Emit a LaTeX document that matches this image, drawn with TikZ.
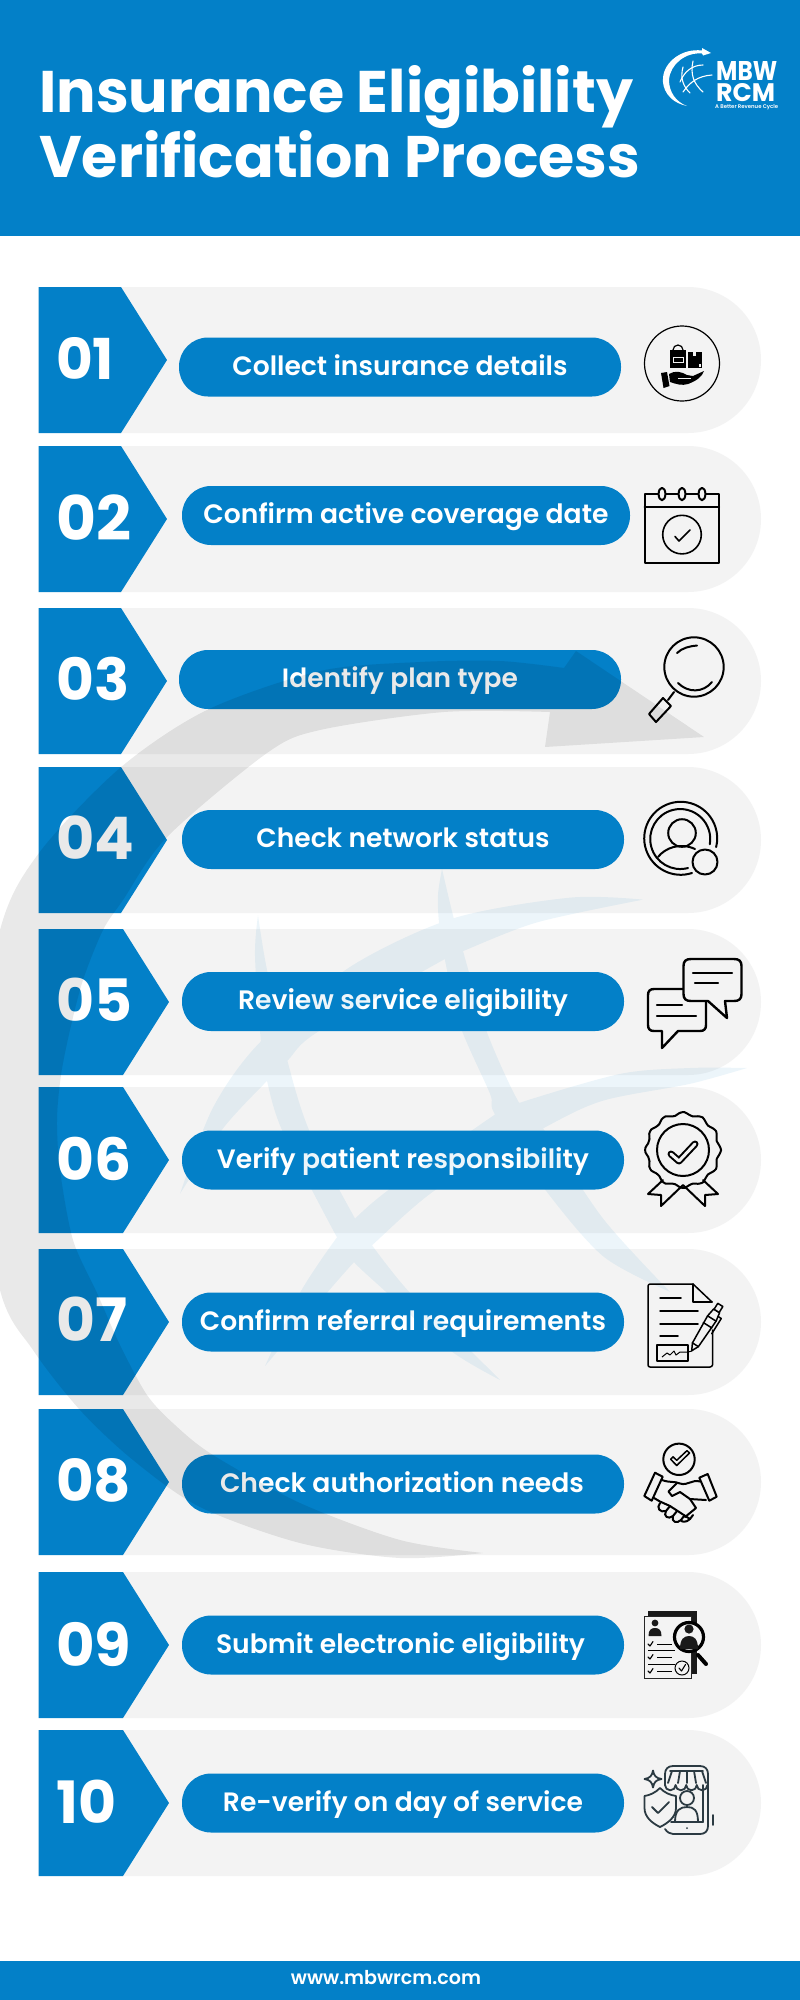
\documentclass[tikz,border=0pt]{standalone}
\usepackage{graphicx}
\usepackage{fontspec}
\setmainfont{Poppins}
\newfontfamily\semi{Poppins}[UprightFont=*-SemiBold]
\usetikzlibrary{calc}
\definecolor{brand}{HTML}{0380C8}
\definecolor{rowgray}{HTML}{F3F3F3}
\definecolor{iconslate}{HTML}{2B3A42}
\tikzset{
  x=1pt,y=-1pt,
  rowband/.style={fill=rowgray},
  chev/.style={fill=brand},
  pillbox/.style={fill=brand,text=white,rounded corners=29pt,inner sep=0pt,minimum height=59pt,text height=20pt,text depth=4pt,align=center},
  numlabel/.style={text=white,anchor=west,inner sep=0pt},
  wm/.style={fill=black,fill opacity=.085},
  globe/.style={fill=brand,fill opacity=.075},
  ic/.style={draw=black,line width=2pt,line cap=round,line join=round},
  icthin/.style={draw=black,line width=1.5pt,line cap=round,line join=round},
  icf/.style={fill=black},
  logoline/.style={draw=white,line width=1.1pt,line cap=round},
}
\newcommand{\rowshape}[3]{%
  \fill[rowband] (100,#1) -- (688,#1) arc[start angle=-90,end angle=90,radius=73] -- (100,#1+146) -- cycle;
  \fill[chev] (38.5,#1) -- (#2,#1) -- (#3,#1+73) -- (#2,#1+146) -- (38.5,#1+146) -- cycle;
}
\newcommand{\numtext}[2]{\resizebox{#1pt}{!}{\bfseries #2}}
\newcommand{\pilltext}[2]{\resizebox{#1pt}{!}{\semi\fontsize{26}{30}\selectfont #2}}
\begin{document}
\begin{tikzpicture}
\useasboundingbox (0,0) rectangle (800,2000);
\fill[white] (0,0) rectangle (800,2000);
% header and footer
\fill[brand] (0,0) rectangle (800,236);
\fill[brand] (0,1961) rectangle (800,2000);
\node[anchor=base west,inner sep=0pt,text=white] (title1) at (39,112) {\resizebox{594pt}{!}{\bfseries\fontsize{58}{60}\selectfont Insurance Eligibility}};
\node[anchor=base west,inner sep=0pt,text=white] (title2) at (39,177) {\resizebox{601pt}{!}{\bfseries\fontsize{58}{60}\selectfont Verification Process}};
\node[inner sep=0pt,text=white] (footer) at (386,1978) {\resizebox{190pt}{!}{\semi\fontsize{18}{20}\selectfont www.mbwrcm.com}};
% logo
\fill[white] (687,106) .. controls (668,102) and (662,88) .. (663,78) .. controls (664,62) and (682,48) .. (702,50.5) -- (702,48) -- (711,53) -- (703,55.5) -- (702,53.5) .. controls (686,52) and (670,64) .. (669,80) .. controls (669,92) and (676,102) .. (687,106) -- cycle;
\draw[logoline] (693,61) .. controls (690,75) and (694,84) .. (703,92);
\draw[logoline] (683,67) .. controls (680,78) and (683,86) .. (690,93);
\draw[logoline] (703,65) .. controls (692,65) and (684,72) .. (680,82);
\draw[logoline] (712,75) .. controls (698,76) and (690,82) .. (683,92);
\node[anchor=base west,inner sep=0pt,text=white] (logoa) at (716,80) {\resizebox{61pt}{19pt}{\bfseries MBW}};
\node[anchor=base west,inner sep=0pt,text=white] (logob) at (716,101) {\resizebox{59pt}{18pt}{\bfseries RCM}};
\node[anchor=base west,inner sep=0pt,text=white] (logoc) at (715,108) {\resizebox{63pt}{!}{\semi A Better Revenue Cycle}};
% rows
\rowshape{287}{121}{167}
\rowshape{446}{121}{167}
\rowshape{608}{121}{167}
\rowshape{767}{121}{167}
\rowshape{929}{123}{169}
\rowshape{1087}{123}{169}
\rowshape{1249}{123}{169}
\rowshape{1409}{123}{169}
\rowshape{1572}{123}{169}
\rowshape{1730}{123}{169}
% numbers
\node[numlabel] (n1) at (56,358) {\numtext{58}{01}};
\node[numlabel] (n2) at (56,518) {\numtext{75}{02}};
\node[numlabel] (n3) at (56,679) {\numtext{73}{03}};
\node[numlabel] (n4) at (56,838) {\numtext{78}{04}};
\node[numlabel] (n5) at (56,1000) {\numtext{76}{05}};
\node[numlabel] (n6) at (56,1159) {\numtext{75}{06}};
\node[numlabel] (n7) at (56,1319) {\numtext{71}{07}};
\node[numlabel] (n8) at (56,1480) {\numtext{75}{08}};
\node[numlabel] (n9) at (56,1644) {\numtext{75}{09}};
\node[numlabel] (n10) at (56,1802) {\numtext{60}{10}};
% pills
\node[pillbox,minimum width=442pt] (p1) at (400,367) {\pilltext{335}{Collect insurance details}};
\node[pillbox,minimum width=448pt] (p2) at (406,515.5) {\pilltext{405}{Confirm active coverage date}};
\node[pillbox,minimum width=442pt] (p3) at (400,679.5) {\pilltext{236}{Identify plan type}};
\node[pillbox,minimum width=442pt] (p4) at (403,839.5) {\pilltext{293}{Check network status}};
\node[pillbox,minimum width=442pt] (p5) at (403,1001.5) {\pilltext{330}{Review service eligibility}};
\node[pillbox,minimum width=442pt] (p6) at (403,1160) {\pilltext{372}{Verify patient responsibility}};
\node[pillbox,minimum width=442pt] (p7) at (403,1322) {\pilltext{406}{Confirm referral requirements}};
\node[pillbox,minimum width=442pt] (p8) at (403,1484) {\hspace*{-2pt}\pilltext{364}{Check authorization needs}};
\node[pillbox,minimum width=442pt] (p9) at (403,1645) {\hspace*{-5pt}\pilltext{369}{Submit electronic eligibility}};
\node[pillbox,minimum width=442pt] (p10) at (403,1803) {\pilltext{360}{Re-verify on day of service}};
% watermark globe: one path, every stroke wound the same way, so crossings do not darken
\begin{scope}[shift={(0,860)},yscale=.9904,shift={(0,-860)}]
\fill[globe]
  plot[smooth] coordinates {(643,900) (570,898) (453,919) (350,968) (260,1044) (213,1110) (180,1197)}
  -- plot[smooth] coordinates {(180,1197) (223,1131) (267,1083) (288,1062) (317,1034) (443,961) (463,952) (537,923) (643,900)} -- cycle
  plot[smooth] coordinates {(747,1070) (690,1070) (620,1076) (520,1105) (495,1117) (390,1192) (355,1222) (337,1241) (300,1297) (265,1371)}
  -- plot[smooth] coordinates {(265,1371) (327,1297) (355,1265) (372,1249) (437,1192) (543,1131) (603,1103) (690,1086) (747,1070)} -- cycle
  plot[smooth] coordinates {(258,916) (255,957) (261,1044) (267,1083) (283,1135) (337,1241) (353,1265) (387,1297) (450,1355) (500,1385)}
  -- plot[smooth] coordinates {(500,1385) (470,1355) (410,1297) (372,1249) (355,1222) (310,1135) (288,1065) (267,971) (258,916)} -- cycle
  plot[smooth] coordinates {(442,869) (438,895) (439,923) (445,961) (460,1027) (490,1096) (495,1117) (543,1190) (603,1260) (670,1296)}
  -- plot[smooth] coordinates {(670,1296) (603,1222) (543,1131) (519,1105) (487,1034) (463,952) (453,916) (442,869)} -- cycle;
\end{scope}
% watermark crescent and arrow
\fill[wm] plot[smooth] coordinates {(483,1553) (400,1558) (300,1543) (200,1507) (133,1460) (80,1410) (33,1350) (0,1290) (-30,1110) (0,930) (39,853) (120,768) (207,710) (320,671) (420,662) (500,661) (564,668)}
  -- (576,651) -- (704,737) -- (545,747) -- (550,712)
  -- plot[smooth] coordinates {(550,712) (444,712) (320,730) (267,753) (167,837) (123,900) (103,930) (83,980) (70,1030) (61,1075) (57,1120) (60,1170) (73,1240) (97,1293) (120,1345) (147,1395) (175,1425) (213,1455) (300,1503) (400,1540) (483,1553)} -- cycle;
% icon 1
\draw[black,line width=1.2pt] (682,363.5) circle[radius=37.5];
\draw[black,line width=1.2pt] (673,350) arc[start angle=180,end angle=360,radius=5];
\fill[icf] (670,350) rectangle (686,368);
\fill[rowgray] (672.5,357) rectangle (683.5,363);
\fill[icf] (673.5,358) rectangle (682.5,362);
\fill[icf] (687.5,352) rectangle (702,368);
\fill[rowgray] (699,364) rectangle (701,366.5);
\fill[rowgray] (692.5,352) rectangle (695.5,356);
\fill[icf] (661,373) -- (667,372) -- (669.5,386) -- (663.5,388) -- cycle;
\fill[icf] (669,374) .. controls (675,370) and (682,372) .. (687,375) -- (693,376) -- (704,371) .. controls (702,377) and (696,381) .. (688,384) .. controls (682,386) and (676,384) .. (670,382) -- cycle;
\fill[rowgray] (678,377.5) rectangle (691,378.5);
% icon 2
\draw[ic] (644.5,494) rectangle (719,563);
\draw[ic] (644.5,507) -- (719,507);
\foreach \cx in {662,682,702}{\filldraw[ic,fill=rowgray] (\cx,494) ellipse[x radius=3.4,y radius=6.2];}
\draw[black,line width=1.6pt] (682,534.6) circle[radius=19.3];
\draw[black,line width=1.6pt,line cap=round,line join=round] (675,536.5) -- (679,541) -- (690,530);
% icon 3
\draw[ic] (694,667) circle[radius=29.7];
\draw[ic] (677,653) .. controls (682,648) and (690,646) .. (697,645.5);
\draw[ic] (678,683) .. controls (688,693) and (703,693) .. (712,682);
\draw[ic] (674,692) -- (668,700);
\draw[ic] (663,698) -- (671,706) -- (656,722) -- (649,714) -- cycle;
% icon 4
\draw[ic] (692,873) arc[start angle=72,end angle=374,radius=36.5];
\draw[ic] (688,868) arc[start angle=75,end angle=370,radius=30];
\draw[ic] (682,833) circle[radius=13.8];
\draw[ic] (658,857) .. controls (665,848) and (680,842) .. (695,849);
\filldraw[ic,fill=rowgray] (705,862) circle[radius=12.5];
% icon 5
\draw[ic,line width=2.4pt,fill=rowgray] (654,989) -- (700,989) .. controls (704,989) and (706,991) .. (706,995) -- (706,1025) .. controls (706,1029) and (704,1031) .. (700,1031) -- (678,1031) -- (662,1048) -- (662,1031) -- (654,1031) .. controls (650,1031) and (648,1029) .. (648,1025) -- (648,995) .. controls (648,991) and (650,989) .. (654,989) -- cycle;
\draw[ic,line width=2.4pt,fill=rowgray] (691,959) -- (734,959) .. controls (739,959) and (741.5,961) .. (741.5,966) -- (741.5,994) .. controls (741.5,999) and (739,1001) .. (734,1001) -- (725,1001) -- (727,1018) -- (708,1001) -- (691,1001) .. controls (686,1001) and (683.5,999) .. (683.5,994) -- (683.5,966) .. controls (683.5,961) and (686,959) .. (691,959) -- cycle;
\draw[ic,line width=2.4pt] (693,973) -- (732,973);
\draw[ic,line width=2.4pt] (695,983) -- (718,983);
\draw[ic,line width=2.4pt] (657,1005) -- (682,1005);
\draw[ic,line width=2.4pt] (657,1016) -- (696,1016);
% icon 6
\draw[ic] plot[smooth cycle,samples=49,domain=0:352.5,variable=\t] ({683+(36.5+1.6*cos(12*\t))*cos(\t)},{1150+(36.5+1.6*cos(12*\t))*sin(\t)});
\draw[ic] (683,1150) circle[radius=26];
\draw[black,line width=7pt,line cap=round,line join=round] (671,1154) -- (679,1161) -- (695,1144);
\draw[rowgray,line width=3pt,line cap=round,line join=round] (671,1154) -- (679,1161) -- (695,1144);
\draw[ic] (663,1180) -- (648,1194) -- (661,1195) -- (661,1206) -- (683,1185) -- (705,1206) -- (705,1195) -- (718,1194) -- (703,1180);
% icon 7
\draw[icthin] (712,1302) -- (693,1284) -- (650,1284) .. controls (649,1284) and (648,1285) .. (648,1286) -- (648,1365) .. controls (648,1366) and (649,1367) .. (650,1367) -- (710,1367) .. controls (711,1367) and (712.5,1366) .. (712.5,1365) -- (712.5,1330);
\draw[icthin] (693,1284) -- (693,1302) -- (712,1302);
\draw[icthin] (660,1298) -- (681,1298);
\draw[icthin] (660,1311) -- (698,1311);
\draw[icthin] (660,1324) -- (698,1324);
\draw[icthin] (660,1336) -- (678,1336);
\draw[icthin] (657,1345) rectangle (688,1361);
\draw[black,line width=1pt,line join=round] (662,1357) -- (667,1353) -- (670,1355) -- (674,1351) -- (676,1355) -- (680,1352) -- (688,1352) -- (692,1351);
\begin{scope}[shift={(691.7,1350.7)},rotate=58]
  \draw[icthin,fill=rowgray] (0,0) -- (7,-3.5) -- (38,-5) -- (47,-3.5) -- (47,3.5) -- (38,5) -- (7,3.5) -- cycle;
  \draw[icthin] (7,-3.5) -- (7,3.5);
  \draw[icthin] (30,-5) -- (30,5);
  \draw[icthin] (38,-5) -- (38,5);
  \draw[icthin,fill=rowgray] (47,-3) rectangle (54,3);
  \draw[icthin] (25,8) -- (43,8) -- (43,4);
\end{scope}
% icon 8
\draw[ic] (679,1459.3) circle[radius=15.7];
\draw[icthin] (670.7,1459.3) -- (673,1456.8) -- (676.7,1460.3) -- (687,1450.6) -- (689.5,1453) -- (676.7,1465.5) -- cycle;
\draw[ic] (655,1472.7) -- (662.7,1476.7) -- (651.7,1500.7) -- (644.3,1496) -- cycle;
\draw[ic] (699.3,1477.7) -- (707.7,1474) -- (716.7,1496.7) -- (709.3,1500.7) -- cycle;
\draw[ic] (662,1480) .. controls (670,1483) and (675,1481) .. (680,1483.5) .. controls (688,1486) and (692,1479) .. (700,1481.5);
\draw[ic] (677,1483) -- (668.5,1491.5) -- (672,1496) -- (680,1492) -- (690,1499) -- (706,1500);
\draw[ic] (654,1498) -- (660,1501.5) -- (670,1506) -- (690,1519);
\draw[ic] (690,1499) -- (696,1508) -- (685,1517);
\draw[ic] (660,1503) .. controls (656,1508) and (660,1513) .. (666,1511) -- (670,1506);
\draw[ic] (666,1511) .. controls (663,1516) and (668,1520) .. (673,1516) -- (677,1511);
\draw[ic] (673,1516) .. controls (671,1522) and (677,1524) .. (681,1520) -- (684,1516);
\draw[ic] (681,1520) .. controls (681,1522) and (686,1523) .. (690,1519) -- (693,1515);
% icon 9
\fill[black!90] (648,1611) rectangle (697,1674);
\draw[black!85,line width=1pt,fill=rowgray] (644.5,1616) rectangle (691.5,1678.5);
\fill[black!90] (655,1623) circle[radius=3.4];
\fill[black!90] (648.5,1636) .. controls (648.5,1630) and (651,1628) .. (655,1628) .. controls (659,1628) and (661.5,1630) .. (661.5,1636) -- cycle;
\draw[black,line width=1pt] (648,1650.5) -- (675,1650.5) (648,1664.5) -- (675,1664.5);
\foreach \ry in {1644,1657,1671}{
  \draw[black,line width=1.1pt,line cap=round,line join=round] (648,\ry) -- (650,\ry+2) -- (653,\ry-2.5);
  \draw[black,line width=1pt] (657,\ry) -- (672,\ry);
}
\filldraw[black,line width=3.2pt,fill=rowgray] (689,1637) circle[radius=14.5];
\fill[black!90] (689,1629) circle[radius=4.6];
\fill[black!90] (680,1649) .. controls (680,1639) and (684,1636) .. (689,1636) .. controls (694,1636) and (698,1639) .. (698,1649) -- cycle;
\draw[black,line width=4pt,line cap=round] (698,1655) -- (706,1664);
\filldraw[black,line width=1pt,fill=rowgray] (682,1668) circle[radius=7];
\draw[black,line width=1.1pt,line cap=round,line join=round] (679,1668) -- (681.5,1671) -- (685.5,1664.5);
% icon 10
\begin{scope}[iconslate,line width=1.8pt,line cap=round,line join=round]
  \draw (665,1785) -- (665,1774) .. controls (665,1769) and (668,1766) .. (673,1766) -- (700,1766) .. controls (705,1766) and (708,1769) .. (708,1774) -- (708,1826) .. controls (708,1831) and (705,1834) .. (700,1834) -- (673,1834) .. controls (670,1834) and (667,1832) .. (665,1829);
  \draw (671,1822) -- (703,1822);
  \draw (703,1785) -- (703,1822);
  \draw (670,1771) -- (703,1771);
  \draw (668,1783) -- (672,1771) (678,1783) -- (680,1771) (687,1783) -- (687,1771) (696,1783) -- (694,1771) (706,1783) -- (702,1771);
  \draw (665,1785) arc[start angle=180,end angle=0,radius=5.3] arc[start angle=180,end angle=0,radius=5.3] arc[start angle=180,end angle=0,radius=5.3] arc[start angle=180,end angle=0,radius=5.3];
  \draw (687,1798) circle[radius=7];
  \draw (675,1822) .. controls (675,1810) and (680,1807) .. (687,1807) .. controls (694,1807) and (698,1810) .. (698,1822);
  \fill (687,1828) circle[radius=1];
  \draw (713,1815) -- (713,1825);
  \draw[fill=rowgray] (660,1788) .. controls (665,1793) and (670,1795) .. (676,1796) -- (676,1808) .. controls (676,1817) and (668,1823) .. (660,1827) .. controls (652,1823) and (644.5,1817) .. (644.5,1808) -- (644.5,1796) .. controls (650,1795) and (655,1793) .. (660,1788) -- cycle;
  \draw (652,1807) -- (658,1813) -- (669,1802);
  \draw (653,1770.5) .. controls (654,1776) and (656,1778) .. (661.5,1779) .. controls (656,1780) and (654,1782) .. (653,1787.5) .. controls (652,1782) and (650,1780) .. (644.5,1779) .. controls (650,1778) and (652,1776) .. (653,1770.5) -- cycle;
\end{scope}
\end{tikzpicture}
\end{document}
